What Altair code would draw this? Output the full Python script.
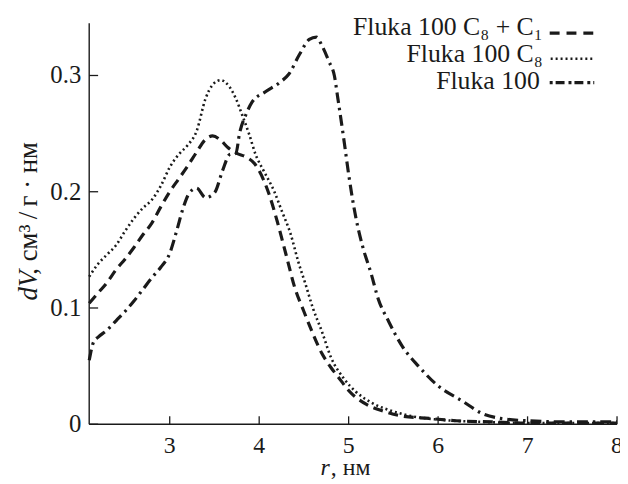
import altair as alt
import pandas as pd

# Fluka 100 C8 + C1 (dashed)
r_a = [2.1, 2.2, 2.3, 2.4, 2.5, 2.6, 2.7, 2.8, 2.9, 3.0, 3.1, 3.2, 3.3, 3.4, 3.48, 3.56, 3.65, 3.75,
       3.85, 3.95, 4.05, 4.11, 4.2, 4.3, 4.4, 4.5, 4.6, 4.7, 4.8, 4.9, 5.0, 5.2, 5.4, 5.6, 5.9, 6.2,
       6.6, 7.0, 7.5, 8.0]
v_a = [0.104, 0.113, 0.122, 0.133, 0.142, 0.152, 0.163, 0.173, 0.187, 0.200, 0.211, 0.222, 0.234,
       0.245, 0.248, 0.245, 0.238, 0.233, 0.230, 0.224, 0.210, 0.198, 0.175, 0.146, 0.117, 0.097,
       0.078, 0.061, 0.049, 0.039, 0.029, 0.017, 0.011, 0.007, 0.005, 0.003, 0.002, 0.001, 0.001,
       0.001]

# Fluka 100 C8 (dotted)
r_b = [2.1, 2.2, 2.3, 2.4, 2.5, 2.6, 2.7, 2.8, 2.9, 3.0, 3.1, 3.2, 3.3, 3.4, 3.48, 3.57, 3.67, 3.74,
       3.81, 3.89, 3.96, 4.05, 4.17, 4.25, 4.35, 4.44, 4.52, 4.6, 4.7, 4.8, 4.95, 5.08, 5.27, 5.5,
       5.7, 6.0, 6.5, 7.0, 8.0]
v_b = [0.127, 0.138, 0.146, 0.154, 0.166, 0.177, 0.186, 0.193, 0.205, 0.221, 0.232, 0.240, 0.252,
       0.280, 0.292, 0.296, 0.290, 0.280, 0.266, 0.249, 0.232, 0.218, 0.200, 0.184, 0.164, 0.139,
       0.120, 0.100, 0.080, 0.058, 0.039, 0.028, 0.018, 0.011, 0.007, 0.004, 0.002, 0.001, 0.001]

# Fluka 100 (dash-dot)
r_c = [2.1, 2.15, 2.2, 2.3, 2.4, 2.5, 2.6, 2.7, 2.8, 2.9, 3.0, 3.08, 3.15, 3.22, 3.3, 3.4, 3.5,
       3.59, 3.67, 3.74, 3.78, 3.85, 3.92, 4.07, 4.23, 4.33, 4.45, 4.56, 4.64, 4.7, 4.78, 4.84, 4.88,
       4.95, 5.0, 5.08, 5.16, 5.25, 5.33, 5.45, 5.6, 5.78, 6.0, 6.27, 6.5, 6.7, 7.0, 7.5, 8.0]
v_c = [0.055, 0.071, 0.075, 0.081, 0.089, 0.097, 0.106, 0.116, 0.126, 0.135, 0.147, 0.167, 0.186,
       0.199, 0.203, 0.195, 0.199, 0.218, 0.232, 0.233, 0.250, 0.266, 0.277, 0.286, 0.294, 0.301,
       0.318, 0.331, 0.333, 0.326, 0.312, 0.300, 0.280, 0.243, 0.215, 0.178, 0.152, 0.130, 0.108,
       0.088, 0.067, 0.050, 0.033, 0.020, 0.009, 0.005, 0.003, 0.002, 0.002]

x_ticks = [3, 4, 5, 6, 7, 8]
x_labels = ["3", "4", "5", "6", "7", "8"]
y_ticks = [0, 0.1, 0.2, 0.3]
y_labels = ["0", "0.1", "0.2", "0.3"]

legend_labels = ["Fluka 100 C\u2088 + C\u2081", "Fluka 100 C\u2088", "Fluka 100"]

FONT = "Liberation Serif"
INK = "#1a1a1a"
W, H = 533, 405

df_a = pd.DataFrame({"r": r_a, "v": v_a})
df_b = pd.DataFrame({"r": r_b, "v": v_b})
df_c = pd.DataFrame({"r": r_c, "v": v_c})
df_xt = pd.DataFrame({"t": x_ticks, "lab": x_labels})
df_yt = pd.DataFrame({"t": y_ticks, "lab": y_labels})

xs = alt.Scale(domain=[2.1, 8], nice=False, zero=False)
ys = alt.Scale(domain=[0, 0.345], nice=False)


def curve(df, dash, width):
    return alt.Chart(df).mark_line(color=INK, strokeWidth=width, strokeDash=dash,
                                   interpolate="monotone").encode(
        x=alt.X("r:Q", scale=xs, axis=None),
        y=alt.Y("v:Q", scale=ys, axis=None),
    )


line_a = curve(df_a, [10, 6], 3.2)
line_b = curve(df_b, [2, 3], 2.6)
line_c = curve(df_c, [11, 5, 2.5, 5], 3.2)

one = pd.DataFrame({"k": [0]})

# axis lines
x_dom = alt.Chart(one).mark_rule(color=INK, strokeWidth=1.4).encode(
    x=alt.value(0), x2=alt.value(W), y=alt.value(H))
y_dom = alt.Chart(one).mark_rule(color=INK, strokeWidth=1.4).encode(
    x=alt.value(0), y=alt.value(0), y2=alt.value(H))

# inward tick marks
xt = alt.Chart(df_xt).mark_rule(color=INK, strokeWidth=1.3).encode(
    x=alt.X("t:Q", scale=xs, axis=None), y=alt.value(H), y2=alt.value(H - 8))
yt = alt.Chart(df_yt).mark_rule(color=INK, strokeWidth=1.3).encode(
    y=alt.Y("t:Q", scale=ys, axis=None), x=alt.value(0), x2=alt.value(9))

# tick labels
xl = alt.Chart(df_xt).mark_text(font=FONT, fontSize=24, color=INK, align="center",
                                baseline="alphabetic").encode(
    x=alt.X("t:Q", scale=xs, axis=None), y=alt.value(H + 29), text="lab:N")
yl = alt.Chart(df_yt).mark_text(font=FONT, fontSize=25, color=INK, align="right",
                                baseline="alphabetic", dy=8).encode(
    y=alt.Y("t:Q", scale=ys, axis=None), x=alt.value(-8), text="lab:N")


def txt(s, x, y, align="left", italic=False, angle=0, size=22, baseline="alphabetic"):
    kw = dict(font=FONT, fontSize=size, color=INK, align=align, baseline=baseline)
    if italic:
        kw["fontStyle"] = "italic"
    if angle:
        kw["angle"] = angle
    return alt.Chart(one).mark_text(**kw).encode(
        x=alt.value(x), y=alt.value(y), text=alt.value(s))


titles = [
    txt("dV", -53, 280, italic=True, angle=270, size=27),
    txt(", см\u00b3\u2009/\u2009г · нм", -53, 254, angle=270, size=27),
    txt("r", 243, 456, align="right", italic=True, size=24),
    txt(", нм", 244, 456, size=24),
]

leg_y_text = [12, 39, 66]
leg_x_text = [458, 458, 455]
leg_y_line = [10, 36, 60]
leg_x1 = [465, 466, 465]
leg_x2 = [513, 509, 510]
leg_dash = [[10, 7], [2, 3], [3, 3, 9, 4]]
leg_w = [3.2, 2.6, 3.2]
legend = []
for i in range(3):
    legend.append(txt(legend_labels[i], leg_x_text[i], leg_y_text[i], align="right", size=26))
    legend.append(alt.Chart(one).mark_rule(color=INK, strokeWidth=leg_w[i],
                                           strokeDash=leg_dash[i]).encode(
        x=alt.value(leg_x1[i]), x2=alt.value(leg_x2[i]), y=alt.value(leg_y_line[i])))

chart = alt.layer(line_a, line_b, line_c, x_dom, y_dom, xt, yt, xl, yl,
                  *titles, *legend).properties(
    width=W, height=H,
    autosize=alt.AutoSizeParams(type="none"),
    padding={"left": 82, "top": 13, "right": 3, "bottom": 56},
    background="white",
).configure_view(stroke=None)

chart.save("out.html", embed_options={"renderer": "svg", "actions": False})
